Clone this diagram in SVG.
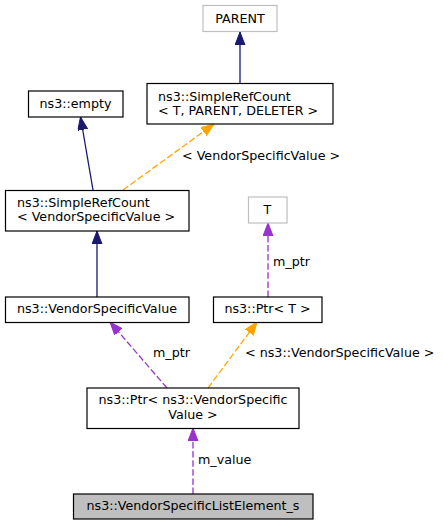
<svg xmlns="http://www.w3.org/2000/svg" width="443" height="525" viewBox="0 0 443 525">
<style>
text{font-family:"DejaVu Sans","Liberation Sans",sans-serif;font-size:12.7px;fill:#000}
.c{text-anchor:middle}
.n{fill:#fff;stroke:#000;stroke-width:1.2}
.g{fill:#fff;stroke:#bfbfbf;stroke-width:1.2}
.h{fill:#bfbfbf;stroke:#000;stroke-width:1.2}
.inh{stroke:#191970;stroke-width:1.3;fill:none}
.tpl{stroke:#ffa500;stroke-width:1.3;fill:none;stroke-dasharray:6.5,2.6}
.use{stroke:#9a32cd;stroke-width:1.3;fill:none;stroke-dasharray:6.5,2.6}
</style>
<defs>
<marker id="aN" markerUnits="userSpaceOnUse" markerWidth="15" markerHeight="12" refX="13" refY="5" orient="auto"><path d="M0,0 L13,5 L0,10 z" fill="#191970" stroke="#191970"/></marker>
<marker id="aO" markerUnits="userSpaceOnUse" markerWidth="15" markerHeight="12" refX="13" refY="5" orient="auto"><path d="M0,0 L13,5 L0,10 z" fill="#ffa500" stroke="#ffa500"/></marker>
<marker id="aP" markerUnits="userSpaceOnUse" markerWidth="15" markerHeight="12" refX="13" refY="5" orient="auto"><path d="M0,0 L13,5 L0,10 z" fill="#9a32cd" stroke="#9a32cd"/></marker>
</defs>
<g id="edges">
<path class="inh" d="M240,83 L240,32" marker-end="url(#aN)"/>
<path class="inh" d="M93,190 L80.5,117" marker-end="url(#aN)"/>
<path class="tpl" d="M123,190 L214,124" marker-end="url(#aO)"/>
<text x="182" y="160">&lt; VendorSpecificValue &gt;</text>
<path class="inh" d="M97,297 L97,231" marker-end="url(#aN)"/>
<path class="use" d="M268,297 L268,223" marker-end="url(#aP)"/>
<text x="273" y="266">m_ptr</text>
<path class="use" d="M167,388 L110,322" marker-end="url(#aP)"/>
<text x="153" y="357">m_ptr</text>
<path class="tpl" d="M208,388 L257,322" marker-end="url(#aO)"/>
<text x="245" y="357">&lt; ns3::VendorSpecificValue &gt;</text>
<path class="use" d="M193,494 L193,428" marker-end="url(#aP)"/>
<text x="198" y="464">m_value</text>
</g>
<g id="parent"><rect class="g" x="203" y="5.5" width="74" height="26"/><text class="c" x="240" y="22.5">PARENT</text></g>
<g id="srcT"><rect class="n" x="147" y="83.5" width="186" height="40.5"/><text x="158" y="100.5">ns3::SimpleRefCount</text><text x="158" y="114.5">&lt; T, PARENT, DELETER &gt;</text></g>
<g id="empty"><rect class="n" x="28.5" y="91" width="94.5" height="26"/><text class="c" x="75.5" y="107.5">ns3::empty</text></g>
<g id="srcV"><rect class="n" x="5.5" y="190.5" width="183.5" height="40.5"/><text x="17" y="206.7">ns3::SimpleRefCount</text><text x="17" y="220.7">&lt; VendorSpecificValue &gt;</text></g>
<g id="T"><rect class="g" x="248.5" y="197" width="38.5" height="26"/><text class="c" x="267.5" y="214">T</text></g>
<g id="vsv"><rect class="n" x="5.5" y="297" width="183.5" height="25.5"/><text class="c" x="97" y="313">ns3::VendorSpecificValue</text></g>
<g id="ptrT"><rect class="n" x="213.5" y="297" width="108.5" height="25.5"/><text class="c" x="267.5" y="313">ns3::Ptr&lt; T &gt;</text></g>
<g id="ptrV"><rect class="n" x="87" y="388" width="212" height="40.5"/><text class="c" x="193" y="403.5">ns3::Ptr&lt; ns3::VendorSpecific</text><text class="c" x="193" y="418.5">Value &gt;</text></g>
<g id="elem"><rect class="h" x="73.5" y="494" width="239.5" height="25"/><text class="c" x="193" y="509.5">ns3::VendorSpecificListElement_s</text></g>
</svg>
